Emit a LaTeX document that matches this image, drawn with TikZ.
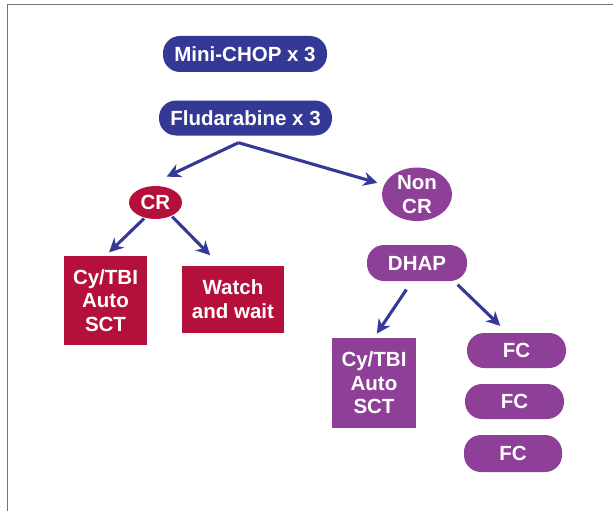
\documentclass[tikz,border=0pt]{standalone}
\usepackage{fontspec}
\setmainfont{Liberation Sans}
\usetikzlibrary{arrows.meta, positioning, shapes.geometric}

\definecolor{regblue}{RGB}{53,57,150}
\definecolor{crred}{RGB}{181,16,60}
\definecolor{ncpurple}{RGB}{142,63,151}

\begin{document}
\begin{tikzpicture}[x=1pt, y=-1pt, >=Stealth,
    font=\bfseries\fontsize{20.5}{23.5}\selectfont,
    pill/.style={rectangle, rounded corners=17pt, text=white, inner sep=0pt,
      minimum height=35pt, align=center},
    oval/.style={ellipse, text=white, inner sep=0pt, align=center},
    box/.style={rectangle, text=white, inner sep=0pt, align=center},
    arr/.style={line width=3.1pt, draw=regblue,
      arrows={-Stealth[length=14pt, width=14pt, inset=4.5pt]}}]

  \useasboundingbox (0,0) rectangle (613,511);

  % frame
  \draw[line width=1pt, black!55] (613,5) -- (7,5) -- (7,511);

  % regimen
  \node[pill, fill=regblue, minimum width=164pt, minimum height=36pt] (chop) at (245,54) {Mini-CHOP x 3};
  \node[pill, fill=regblue, minimum width=173pt] (flu) at (245.5,118) {Fludarabine x 3};

  % responses
  \node[oval, fill=crred, minimum width=53pt, minimum height=33pt] (cr) at (155.5,202.5) {CR};
  \node[oval, fill=ncpurple, minimum width=70pt, minimum height=53pt] (noncr) at (417,194.3) {Non\\CR};

  % CR branch
  \node[box, fill=crred, minimum width=83pt, minimum height=89pt] (sctcr) at (105.5,300.5) {Cy/TBI\\Auto\\SCT};
  \node[box, fill=crred, minimum width=102pt, minimum height=67pt] (watch) at (233,299) {Watch\\and wait};

  % non CR branch
  \node[pill, fill=ncpurple, minimum width=100pt, minimum height=36pt] (dhap) at (417,263) {DHAP};
  \node[box, fill=ncpurple, minimum width=84pt, minimum height=90pt] (sctnc) at (374,383) {Cy/TBI\\Auto\\SCT};
  \node[pill, fill=ncpurple, minimum width=99pt] (fca) at (516.5,350.5) {FC};
  \node[pill, fill=ncpurple, minimum width=99pt] (fcb) at (514.5,401.5) {FC};
  \node[pill, fill=ncpurple, minimum width=98pt, minimum height=37pt] (fcc) at (513,453.5) {FC};

  % arrows
  \coordinate (split) at ([xshift=-7pt, yshift=-7pt]flu.south);
  \draw[arr, shorten >=34pt] (split) -- (cr.150);
  \draw[arr, shorten >=7pt] (split) -- (noncr);
  \draw[arr, shorten <=1pt, shorten >=5pt] (cr.235) -- (sctcr.north);
  \draw[arr, shorten <=1pt, shorten >=14pt] (cr.-40) -- ([xshift=-13pt]watch.north);
  \draw[arr, shorten <=10pt, shorten >=5pt] ([xshift=-5pt]dhap.south) -- (sctnc.north);
  \draw[arr, shorten <=5pt, shorten >=10pt] ([xshift=37pt]dhap.south) -- ([xshift=-9pt]fca.north);

\end{tikzpicture}
\end{document}
